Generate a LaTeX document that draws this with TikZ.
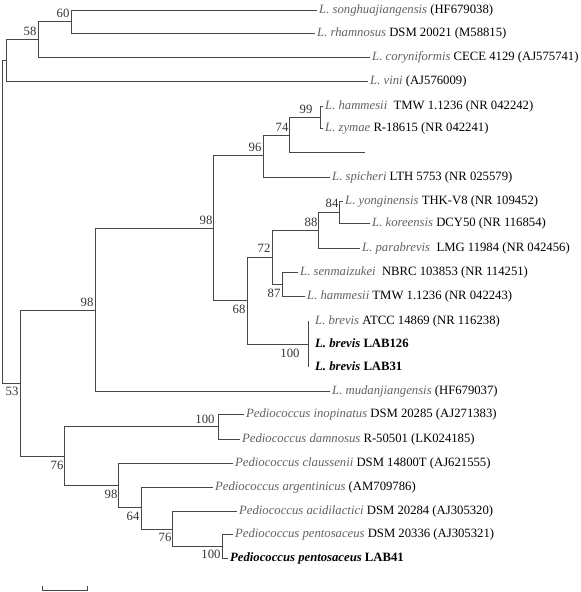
\documentclass[tikz,border=0pt]{standalone}
\usepackage{fontspec}
\setmainfont{Liberation Serif}
\newcommand\spn[1]{\textcolor{black!62}{\textit{#1}}}
\newcommand\lffont{\fontsize{12.7pt}{15pt}\selectfont}
\begin{document}
\begin{tikzpicture}[x=1pt,y=-1pt,
  br/.style={draw=black!72, line width=0.9pt},
  leaf/.style={anchor=base west, inner sep=0pt, xshift=2pt, yshift=-3pt, font=\lffont},
  leafb/.style={leaf, xshift=5pt},
  bs/.style={anchor=base, inner sep=0pt, text=black!80, font=\lffont}]
\useasboundingbox (0,0) rectangle (581,592);
% internal nodes
\coordinate (root) at (2,221);
\coordinate (A) at (6,60);
\coordinate (A1) at (38,39);
\coordinate (A2) at (71,21.5);
\coordinate (B) at (20,383);
\coordinate (C) at (95,310);
\coordinate (D) at (213,228);
\coordinate (E) at (263,155);
\coordinate (G) at (289,135);
\coordinate (H) at (320,117);
\coordinate (F) at (247,300);
\coordinate (I) at (272,257);
\coordinate (K) at (318,230);
\coordinate (M) at (339,212);
\coordinate (L) at (282,284);
\coordinate (J) at (308,344);
\coordinate (P) at (64,456);
\coordinate (Q) at (218,426.5);
\coordinate (R) at (118,485);
\coordinate (S) at (141,507);
\coordinate (T) at (172,529);
\coordinate (U) at (222,546);
% leaf ends
\coordinate (l1) at (317,10);
\coordinate (l2) at (315,33);
\coordinate (l3) at (370,57);
\coordinate (l4) at (368,81);
\coordinate (l5) at (323,106);
\coordinate (l6) at (323,128);
\coordinate (l7) at (365,152);
\coordinate (l8) at (330,177);
\coordinate (l9) at (343,201);
\coordinate (l10) at (370,223);
\coordinate (l11) at (360,248);
\coordinate (l12) at (298,272);
\coordinate (l13) at (305,296);
\coordinate (l14) at (308,321);
\coordinate (l15) at (308,344);
\coordinate (l16) at (308,367);
\coordinate (l17) at (330,391);
\coordinate (p1) at (244,414);
\coordinate (p2) at (240,439);
\coordinate (p3) at (233,463);
\coordinate (p4) at (213,487);
\coordinate (p5) at (237,511);
\coordinate (p6) at (233,534);
\coordinate (p7) at (228,558);
% branches
\draw[br] (root) |- (A);
\draw[br] (root) |- (B);
\draw[br] (A) |- (A1);
\draw[br] (A) |- (l4);
\draw[br] (A1) |- (A2);
\draw[br] (A1) |- (l3);
\draw[br] (A2) |- (l1);
\draw[br] (A2) |- (l2);
\draw[br] (B) |- (C);
\draw[br] (B) |- (P);
\draw[br] (C) |- (D);
\draw[br] (C) |- (l17);
\draw[br] (D) |- (E);
\draw[br] (D) |- (F);
\draw[br] (E) |- (G);
\draw[br] (E) |- (l8);
\draw[br] (G) |- (H);
\draw[br] (G) |- (l7);
\draw[br] (H) |- (l5);
\draw[br] (H) |- (l6);
\draw[br] (F) |- (I);
\draw[br] (F) |- (J);
\draw[br] (I) |- (K);
\draw[br] (I) |- (L);
\draw[br] (K) |- (M);
\draw[br] (K) |- (l11);
\draw[br] (M) |- (l9);
\draw[br] (M) |- (l10);
\draw[br] (L) |- (l12);
\draw[br] (L) |- (l13);
\draw[br] (l14) -- (l16);
\draw[br] (P) |- (Q);
\draw[br] (P) |- (R);
\draw[br] (Q) |- (p1);
\draw[br] (Q) |- (p2);
\draw[br] (R) |- (p3);
\draw[br] (R) |- (S);
\draw[br] (S) |- (p4);
\draw[br] (S) |- (T);
\draw[br] (T) |- (p5);
\draw[br] (T) |- (U);
\draw[br] (U) |- (p6);
\draw[br] (U) |- (p7);
% leaf labels
\node[leaf] (t1) at (l1) {\spn{L. songhuajiangensis} (HF679038)};
\node[leaf] (t2) at (l2) {\spn{L. rhamnosus} DSM 20021 (M58815)};
\node[leaf] (t3) at (l3) {\spn{L. coryniformis} CECE 4129 (AJ575741)};
\node[leaf] (t4) at (l4) {\spn{L. vini} (AJ576009)};
\node[leaf] (t5) at (l5) {\spn{L. hammesii}\ \ TMW 1.1236 (NR 042242)};
\node[leaf] (t6) at (l6) {\spn{L. zymae} R-18615 (NR 042241)};
\node[leaf] (t8) at (l8) {\spn{L. spicheri} LTH 5753 (NR 025579)};
\node[leaf] (t9) at (l9) {\spn{L. yonginensis} THK-V8 (NR 109452)};
\node[leaf] (t10) at (l10) {\spn{L. koreensis} DCY50 (NR 116854)};
\node[leaf] (t11) at (l11) {\spn{L. parabrevis}\ \ LMG 11984 (NR 042456)};
\node[leaf] (t12) at (l12) {\spn{L. senmaizukei}\ \ NBRC 103853 (NR 114251)};
\node[leaf] (t13) at (l13) {\spn{L. hammesii} TMW 1.1236 (NR 042243)};
\node[leafb] (t14) at (l14) {\spn{L. brevis} ATCC 14869 (NR 116238)};
\node[leafb] (t15) at (l15) {\textbf{\textit{L. brevis} LAB126}};
\node[leafb] (t16) at (l16) {\textbf{\textit{L. brevis} LAB31}};
\node[leaf] (t17) at (l17) {\spn{L. mudanjiangensis} (HF679037)};
\node[leaf] (u1) at (p1) {\spn{Pediococcus inopinatus} DSM 20285 (AJ271383)};
\node[leaf] (u2) at (p2) {\spn{Pediococcus damnosus} R-50501 (LK024185)};
\node[leaf] (u3) at (p3) {\spn{Pediococcus claussenii} DSM 14800T (AJ621555)};
\node[leaf] (u4) at (p4) {\spn{Pediococcus argentinicus} (AM709786)};
\node[leaf] (u5) at (p5) {\spn{Pediococcus acidilactici} DSM 20284 (AJ305320)};
\node[leaf] (u6) at (p6) {\spn{Pediococcus pentosaceus} DSM 20336 (AJ305321)};
\node[leaf] (u7) at (p7) {\textbf{\textit{Pediococcus pentosaceus} LAB41}};
% bootstrap values
\node[bs] (b1) at (63,17) {60};
\node[bs] (b2) at (30,35) {58};
\node[bs] (b3) at (12,395) {53};
\node[bs] (b4) at (87,306) {98};
\node[bs] (b5) at (206,224) {98};
\node[bs] (b6) at (255,151) {96};
\node[bs] (b7) at (282,131) {74};
\node[bs] (b8) at (306,113) {99};
\node[bs] (b9) at (332,207) {84};
\node[bs] (b10) at (311,226) {88};
\node[bs] (b11) at (264,252) {72};
\node[bs] (b12) at (274,297) {87};
\node[bs] (b13) at (239,313) {68};
\node[bs] (b14) at (290,357) {100};
\node[bs] (b15) at (205,423) {100};
\node[bs] (b16) at (57,469) {76};
\node[bs] (b17) at (111,498) {98};
\node[bs] (b18) at (133,520) {64};
\node[bs] (b19) at (165,541) {76};
\node[bs] (b20) at (211,558) {100};
% scale bar
\coordinate (s1) at (42,590);
\coordinate (s2) at (87,590);
\coordinate (s1t) at (42,586);
\coordinate (s2t) at (87,586);
\draw[br] (s1t) -- (s1) -- (s2) -- (s2t);
\end{tikzpicture}
\end{document}
